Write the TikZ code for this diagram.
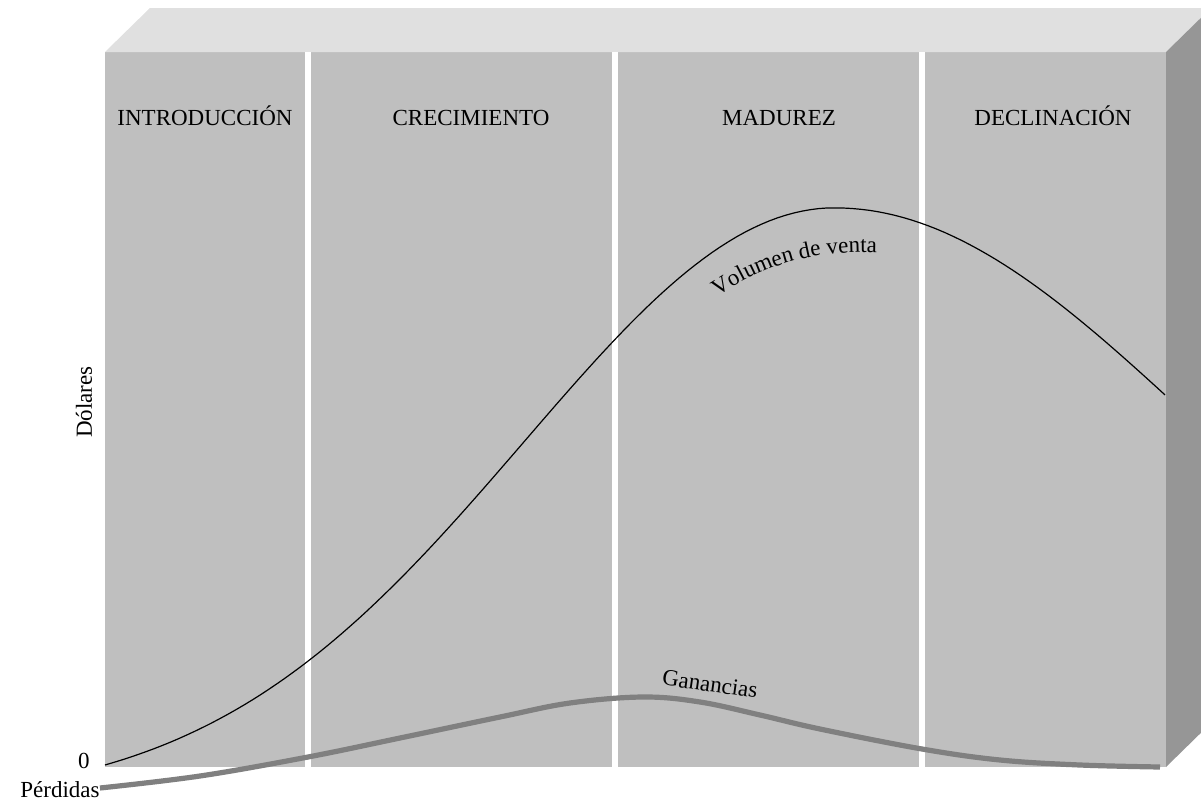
\documentclass[tikz,border=0pt]{standalone}
\usepackage{fontspec}
\setmainfont{Liberation Serif}
\usetikzlibrary{decorations.text}
\newcommand{\ciclofont}{\fontsize{11.5}{13}\selectfont}

\begin{document}
\begin{tikzpicture}[
    x=0.5pt, y=-0.5pt,
    every node/.style={font=\ciclofont, inner sep=0pt},
    frontface/.style={fill=black!25},
    topface/.style={fill=black!12},
    sideface/.style={fill=black!41},
    divider/.style={draw=white, line width=3.3pt},
    phase/.style={anchor=base},
    ventas/.style={draw=black, line width=0.6pt},
    ganancia/.style={draw=black!50, line width=2.6pt}
]
\useasboundingbox (0,0) rectangle (1201,804);
\clip (0,0) rectangle (1201,804);

% the box
\fill[frontface] (105,52) rectangle (1166,767);
\fill[topface] (105,52) -- (150,8) -- (1211,8) -- (1166,52) -- cycle;
\fill[sideface] (1166,52) -- (1211,8) -- (1211,723) -- (1166,767) -- cycle;

% stages
\draw[divider] (308,52) -- (308,767);
\draw[divider] (615,52) -- (615,767);
\draw[divider] (922,52) -- (922,767);

\node[phase] (intro) at (205,125) {INTRODUCCIÓN};
\node[phase] (crec) at (471,125) {CRECIMIENTO};
\node[phase] (mad) at (779,125) {MADUREZ};
\node[phase] (decl) at (1053,125) {DECLINACIÓN};

% curves
\draw[ventas] plot[domain=105:835, samples=90] (\x, {802.9-595*exp(-((\x-835)/440)^2)})
    -- plot[domain=835:1165, samples=40] (\x, {765-557*exp(-((\x-835)/516)^2)});
\draw[ganancia] plot[smooth, tension=0.6] coordinates {(100,788) (200,776) (308,757) (400,738) (500,717) (570,703) (643,697) (700,702) (760,715) (820,729) (922,749) (1000,760) (1080,765) (1160,767)};

\path[decorate, decoration={text along path, text align=center,
    text={|\ciclofont|Volumen de venta}}]
    (705,305) .. controls (762,264) and (814,248) .. (892,253);

% axis texts
\node[anchor=base east] (cero) at (90,768) {0};
\node[anchor=base east] (perd) at (100,797) {Pérdidas};
\node[rotate=90] (dol) at (84,402) {Dólares};
\node[rotate=-8] (gan) at (710,684) {Ganancias};

\end{tikzpicture}
\end{document}
